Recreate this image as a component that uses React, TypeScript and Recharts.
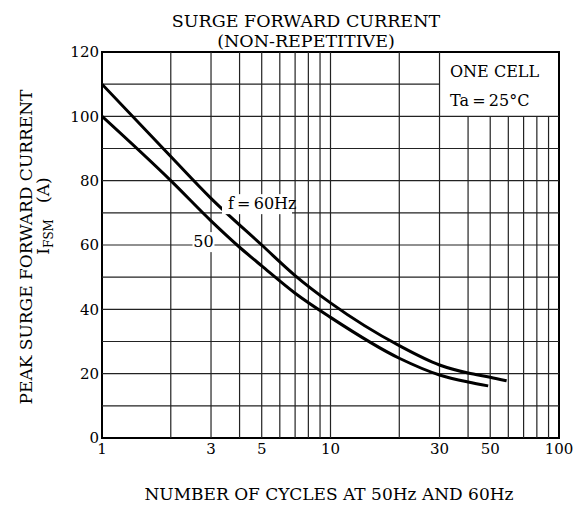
import React from "react";
import { LineChart, Line, XAxis, YAxis, ReferenceLine, ReferenceArea, ReferenceDot } from "recharts";

const FONT = '"DejaVu Serif", serif';

// curve readings (cycles -> peak surge current, A)
const cycles60 = [1, 2, 3, 5, 7, 10, 20, 30, 40, 50, 59];
const amps60 = [110, 87.5, 74.5, 60, 50.5, 42, 28.7, 22.7, 20.2, 18.9, 17.8];
const cycles50 = [1, 2, 3, 4, 5, 7, 10, 20, 30, 40, 49];
const amps50 = [100, 80, 67.5, 59.3, 53.5, 45, 37.5, 24.8, 19.6, 17.4, 16.2];

const xTicks = [1, 3, 5, 10, 30, 50, 100];
const yTicks = [0, 20, 40, 60, 80, 100, 120];
const xGridFull = [2, 3, 4, 5, 6, 7, 8, 9, 10, 20, 30];
const xGridLow = [40, 50, 60, 70, 80, 90];
const yGrid = [10, 20, 30, 40, 50, 60, 70, 80, 90, 100];

const data60 = cycles60.map((n, i) => ({ n, a: amps60[i] }));
const data50 = cycles50.map((n, i) => ({ n, a: amps50[i] }));

const tagLabel = (text: string, w: number, anchor: "start" | "middle") => (props: any) => {
  const { cx, cy } = props;
  const x0 = anchor === "start" ? cx - 6 : cx - w / 2;
  return (
    <g>
      <rect x={x0} y={cy - 10} width={w} height={20} fill="#fff" />
      <text x={cx} y={cy + 5} textAnchor={anchor} fontFamily={FONT} fontSize={16} fill="#000">
        {text}
      </text>
    </g>
  );
};

export default function App() {
  const gridStroke = "#222";
  return (
    <div style={{ position: "absolute", left: 0, top: 0, width: 583, height: 506, background: "#fff" }}>
      <LineChart width={583} height={506} data={data60} margin={{ top: 52, right: 24, bottom: 0, left: 0 }}>
        <XAxis
          dataKey="n"
          type="number"
          scale="log"
          domain={[1, 100]}
          ticks={xTicks}
          height={68}
          tickLine={false}
          tickSize={0}
          tickMargin={5}
          axisLine={false}
          allowDataOverflow
          tick={{ fill: "#000", fontSize: 15, fontFamily: FONT }}
        />
        <YAxis
          type="number"
          domain={[0, 120]}
          ticks={yTicks}
          width={102}
          tickLine={false}
          tickSize={0}
          tickMargin={3}
          axisLine={false}
          tick={{ fill: "#000", fontSize: 15, fontFamily: FONT }}
        />
        {yGrid.map((v) => (
          <ReferenceLine key={"h" + v} y={v} stroke={gridStroke} strokeWidth={1.2} />
        ))}
        <ReferenceLine segment={[{ x: 1, y: 110 }, { x: 30, y: 110 }]} stroke={gridStroke} strokeWidth={1.2} />
        {xGridFull.map((v) => (
          <ReferenceLine key={"v" + v} x={v} stroke={gridStroke} strokeWidth={1.2} />
        ))}
        {xGridLow.map((v) => (
          <ReferenceLine key={"vl" + v} segment={[{ x: v, y: 0 }, { x: v, y: 100 }]} stroke={gridStroke} strokeWidth={1.2} />
        ))}
        <ReferenceArea x1={1} x2={100} y1={0} y2={120} fill="none" stroke="#000" strokeWidth={2} />
        <ReferenceDot x={3.56} y={72.7} r={0} shape={tagLabel("f\u2009=\u200960Hz", 70, "start")} />
        <ReferenceDot x={2.78} y={60.9} r={0} shape={tagLabel("50", 22, "middle")} />
        <Line data={data60} dataKey="a" type="monotone" stroke="#000" strokeWidth={3} dot={false} isAnimationActive={false} />
        <Line data={data50} dataKey="a" type="monotone" stroke="#000" strokeWidth={3} dot={false} isAnimationActive={false} />
      </LineChart>
      <svg width={583} height={506} style={{ position: "absolute", left: 0, top: 0, pointerEvents: "none" }}>
        <g fontFamily={FONT} fill="#000">
          <text x={306} y={27} textAnchor="middle" fontSize={17.5}>SURGE FORWARD CURRENT</text>
          <text x={306} y={47} textAnchor="middle" fontSize={17.5}>(NON-REPETITIVE)</text>
          <text x={329} y={500} textAnchor="middle" fontSize={17}>NUMBER OF CYCLES AT 50Hz AND 60Hz</text>
          <text transform="translate(32,247) rotate(-90)" textAnchor="middle" fontSize={17}>PEAK SURGE FORWARD CURRENT</text>
          <text transform="translate(49,216) rotate(-90)" textAnchor="middle" fontSize={17}>
            I<tspan fontSize={12} dy={4}>FSM</tspan>
            <tspan dy={-4}>{"\u00a0\u00a0\u00a0(A)"}</tspan>
          </text>
          <text x={450} y={77} fontSize={16}>ONE CELL</text>
          <text x={450} y={106} fontSize={16}>Ta{"\u2009=\u2009"}25°C</text>
        </g>
      </svg>
    </div>
  );
}
